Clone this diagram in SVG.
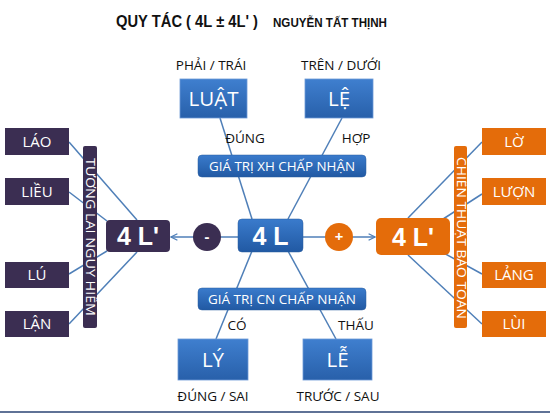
<svg xmlns="http://www.w3.org/2000/svg" width="550" height="413" viewBox="0 0 550 413">
<defs>
<linearGradient id="gb" x1="0" y1="0" x2="0" y2="1">
<stop offset="0" stop-color="#3f7fcf"/>
<stop offset="1" stop-color="#2860aa"/>
</linearGradient>
<linearGradient id="gbar" x1="0" y1="0" x2="0" y2="1">
<stop offset="0" stop-color="#3a7bcc"/>
<stop offset="1" stop-color="#2159a3"/>
</linearGradient>
<marker id="arr" viewBox="0 0 10 10" refX="9" refY="5" markerWidth="8" markerHeight="8" orient="auto" markerUnits="userSpaceOnUse">
<path d="M1,1 L9,5 L1,9" fill="none" stroke="#4f7fb8" stroke-width="1.6"/>
</marker>
</defs>
<style>
.t{font-family:"Liberation Sans",Arial,sans-serif;fill:#111}
.lab{font-family:"Open Sans","Liberation Sans",sans-serif;font-size:13.5px;fill:#111;text-anchor:middle}
.w{font-family:"Open Sans","Liberation Sans",sans-serif;fill:#fff;text-anchor:middle}
.big{font-family:"Liberation Sans",Arial,sans-serif;font-weight:bold;font-size:25px;fill:#fff;text-anchor:middle}
.blue{fill:url(#gb);stroke:#6d9ad6;stroke-width:0.8}
.bar{fill:url(#gbar);stroke:#2a5c9e;stroke-width:0.5}
.dark{fill:#3b2e52}
.orange{fill:#e46c0a}
.ln{stroke:#4f7fb8;stroke-width:1.5;fill:none}
.side{font-family:"Open Sans","Liberation Sans",sans-serif;font-size:15px;fill:#fff;text-anchor:middle}
.vt{font-family:"Open Sans","Liberation Sans",sans-serif;font-size:12px;fill:#fff;text-anchor:middle}
</style>
<rect width="550" height="413" fill="#fff"/>
<g id="title">
<text class="t" x="116" y="27" font-size="17" font-weight="bold" textLength="142" lengthAdjust="spacingAndGlyphs">QUY TÁC ( 4L ± 4L' )</text>
<text class="t" x="273" y="27" font-size="13.5" font-weight="bold" textLength="114" lengthAdjust="spacingAndGlyphs">NGUYỄN TẤT THỊNH</text>
</g>
<g id="connectors">
<line class="ln" x1="220" y1="118" x2="252" y2="219"/>
<line class="ln" x1="342" y1="118" x2="288" y2="219"/>
<line class="ln" x1="252" y1="251" x2="216" y2="339"/>
<line class="ln" x1="288" y1="251" x2="336" y2="339"/>
<line class="ln" x1="238" y1="237" x2="171" y2="237" marker-end="url(#arr)"/>
<line class="ln" x1="303" y1="237" x2="375" y2="237" marker-end="url(#arr)"/>
<line class="ln" x1="69" y1="142" x2="137" y2="220"/>
<line class="ln" x1="69" y1="192" x2="107" y2="221"/>
<line class="ln" x1="69" y1="274" x2="107" y2="251"/>
<line class="ln" x1="69" y1="324" x2="137" y2="252"/>
<line class="ln" x1="408" y1="218" x2="482" y2="142"/>
<line class="ln" x1="440" y1="221" x2="482" y2="194"/>
<line class="ln" x1="440" y1="251" x2="482" y2="274"/>
<line class="ln" x1="408" y1="255" x2="482" y2="324"/>
</g>
<g id="luat">
<text class="lab" x="211" y="70">PHẢI / TRÁI</text>
<rect class="blue" x="180" y="79" width="67" height="39"/>
<text class="w" x="213.5" y="106" font-size="20.5">LUẬT</text>
</g>
<g id="le">
<text class="lab" x="341" y="70">TRÊN  / DƯỚI</text>
<rect class="blue" x="305" y="79" width="68" height="39"/>
<text class="w" x="339" y="106" font-size="20.5">LỆ</text>
</g>
<text class="lab" x="245" y="143">ĐÚNG</text>
<text class="lab" x="356" y="143">HỢP</text>
<g id="xh">
<rect class="bar" x="198" y="155" width="168" height="22" rx="4"/>
<text class="w" x="282" y="171" font-size="13" textLength="146" lengthAdjust="spacingAndGlyphs">GIÁ  TRỊ XH CHẤP NHẬN</text>
</g>
<g id="cn">
<rect class="bar" x="198" y="288" width="168" height="22" rx="4"/>
<text class="w" x="282" y="304" font-size="13" textLength="148" lengthAdjust="spacingAndGlyphs">GIÁ  TRỊ CN CHẤP NHẬN</text>
</g>
<g id="4l">
<rect class="bar" x="238" y="219" width="65" height="33" rx="4"/>
<text class="big" x="270.5" y="245">4 L</text>
</g>
<g id="minus">
<circle cx="207" cy="237" r="14" class="dark"/>
<text class="w" x="207" y="242" font-size="15" font-weight="bold">-</text>
</g>
<g id="plus">
<circle cx="339" cy="237" r="14" class="orange"/>
<text class="w" x="339" y="242" font-size="15" font-weight="bold">+</text>
</g>
<g id="4lp-left">
<rect class="dark" x="106" y="220" width="64" height="32" rx="4"/>
<text class="big" x="138" y="245">4 L'</text>
</g>
<g id="4lp-right">
<rect class="orange" x="376" y="218" width="74" height="37" rx="5"/>
<text class="big" x="413" y="246">4 L'</text>
</g>
<text class="lab" x="237" y="330">CÓ</text>
<text class="lab" x="356" y="330">THẤU</text>
<g id="ly">
<rect class="blue" x="178" y="339" width="70" height="41"/>
<text class="w" x="213" y="367" font-size="20.5">LÝ</text>
<text class="lab" x="213" y="401">ĐÚNG / SAI</text>
</g>
<g id="lee">
<rect class="blue" x="303" y="339" width="69" height="41"/>
<text class="w" x="337.5" y="367" font-size="20.5">LỄ</text>
<text class="lab" x="338" y="401">TRƯỚC / SAU</text>
</g>
<g id="left-bar">
<rect class="dark" x="83" y="146" width="14" height="182" rx="2"/>
<text class="vt" transform="translate(86,237) rotate(90)" x="0" y="0" textLength="158" lengthAdjust="spacingAndGlyphs">TƯƠNG LAI NGUY HIỂM</text>
</g>
<g id="right-bar">
<rect class="orange" x="454" y="146" width="13" height="182" rx="2"/>
<text class="vt" transform="translate(456.5,238) rotate(90)" x="0" y="0" textLength="162" lengthAdjust="spacingAndGlyphs">CHIẾN THUẬT BẢO TOÀN</text>
</g>
<g id="lao"><rect class="dark" x="5" y="128" width="64" height="27"/><text class="side" x="37" y="147">LÁO</text></g>
<g id="lieu"><rect class="dark" x="5" y="178" width="64" height="27"/><text class="side" x="37" y="197">LIỀU</text></g>
<g id="lu"><rect class="dark" x="5" y="262" width="64" height="26"/><text class="side" x="37" y="280">LÚ</text></g>
<g id="lan"><rect class="dark" x="5" y="311" width="64" height="26"/><text class="side" x="37" y="329">LẬN</text></g>
<g id="lo"><rect class="orange" x="482" y="128" width="64" height="27"/><text class="side" x="514" y="147">LỜ</text></g>
<g id="luon"><rect class="orange" x="482" y="178" width="64" height="27"/><text class="side" x="514" y="197">LƯỢN</text></g>
<g id="lang"><rect class="orange" x="482" y="262" width="64" height="26"/><text class="side" x="514" y="280">LẢNG</text></g>
<g id="lui"><rect class="orange" x="482" y="311" width="64" height="26"/><text class="side" x="514" y="329">LÙI</text></g>
<rect x="0" y="411" width="550" height="2" fill="#5f7296"/>
</svg>
